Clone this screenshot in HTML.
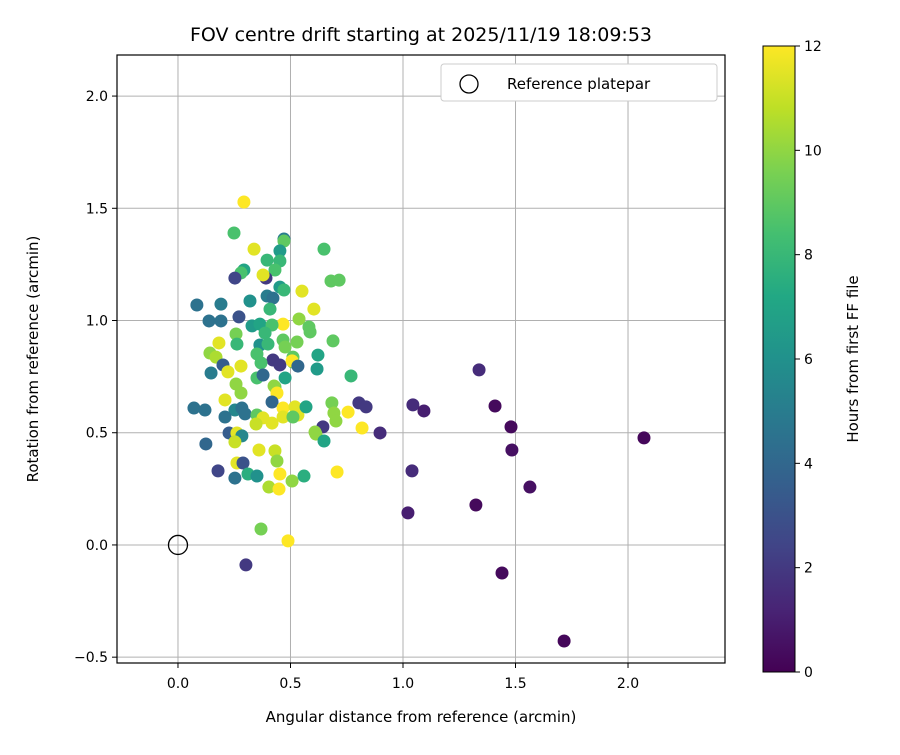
<!DOCTYPE html>
<html><head><meta charset="utf-8">
<style>
body{margin:0;background:#fff;font-family:"Liberation Sans","DejaVu Sans",sans-serif;}
svg text{font-family:"DejaVu Sans","Liberation Sans",sans-serif;fill:#000;}
</style></head>
<body>
<svg id="chart" width="900" height="750" viewBox="0 0 900 750" xmlns="http://www.w3.org/2000/svg">
<defs>
<linearGradient id="vir" x1="0" y1="1" x2="0" y2="0">
<stop offset="0" stop-color="#440154"/><stop offset="0.1" stop-color="#482475"/><stop offset="0.2" stop-color="#414487"/><stop offset="0.3" stop-color="#355f8d"/><stop offset="0.4" stop-color="#2a788e"/><stop offset="0.5" stop-color="#21918c"/><stop offset="0.6" stop-color="#22a884"/><stop offset="0.7" stop-color="#44bf70"/><stop offset="0.8" stop-color="#7ad151"/><stop offset="0.9" stop-color="#bddf26"/><stop offset="1" stop-color="#fde725"/>
</linearGradient>
<clipPath id="clip"><rect x="117" y="55" width="608" height="608"/></clipPath>
</defs>
<text x="421" y="41" font-size="19" text-anchor="middle">FOV centre drift starting at 2025/11/19 18:09:53</text>
<g id="grid"></g>
<g id="points" clip-path="url(#clip)"></g>
<rect x="117" y="55" width="608" height="608" fill="none" stroke="#000" stroke-width="1.2"/>
<g id="ticks"></g>
<text x="421" y="722" font-size="15" text-anchor="middle">Angular distance from reference (arcmin)</text>
<text transform="translate(38,359) rotate(-90)" font-size="15" text-anchor="middle">Rotation from reference (arcmin)</text>
<g>
<rect x="441" y="64" width="276" height="37" rx="3" fill="#fff" stroke="#ccc"/>
<circle cx="469" cy="84" r="9" fill="none" stroke="#000" stroke-width="1.3"/>
<text x="507" y="89" font-size="15">Reference platepar</text>
</g>
<rect x="763" y="46" width="32" height="626" fill="url(#vir)" stroke="#000" stroke-width="1"/>
<g id="cticks"></g>
<text transform="translate(858,359) rotate(-90)" font-size="15" text-anchor="middle">Hours from first FF file</text>
</svg>
<script>
const xs=[.293,.249,.471,.471,.338,.453,.649,.396,.453,.293,.280,.431,.253,.391,.378,.680,.716,.453,.471,.551,.396,.422,.320,.084,.191,.604,.409,.138,.191,.271,.329,.364,.467,.538,.582,.587,.418,.258,.387,.182,.262,.467,.529,.689,.364,.400,.142,.476,.169,.351,.422,.453,.511,.511,.507,.622,.369,.533,.618,.769,.200,.280,.147,.222,.351,.378,.476,.431,.258,.280,.427,.440,.418,.209,.071,.120,.253,.284,.298,.209,.351,.378,.347,.418,.467,.467,.520,.533,.569,.511,.644,.609,.613,.649,.684,.693,.702,.756,.804,.836,.818,.227,.262,.284,.253,.124,.360,.431,.440,.262,.289,.178,.253,.311,.351,.453,.507,.560,.404,.449,.707,.369,.489,.302,1.338,1.044,1.093,.898,1.409,1.480,1.484,1.564,2.071,1.324,1.040,1.022,1.440,1.716];
const ys=[1.528,1.390,1.363,1.354,1.318,1.310,1.318,1.269,1.265,1.225,1.212,1.225,1.189,1.189,1.203,1.176,1.180,1.149,1.136,1.131,1.109,1.100,1.087,1.069,1.073,1.051,1.051,.998,.998,1.016,.976,.984,.984,1.007,.971,.949,.980,.940,.944,.900,.895,.913,.904,.909,.891,.895,.855,.882,.837,.851,.824,.802,.837,.815,.820,.846,.811,.797,.784,.753,.802,.797,.766,.771,.744,.757,.744,.704,.717,.677,.708,.677,.637,.646,.610,.601,.601,.610,.584,.570,.579,.566,.539,.543,.610,.570,.615,.579,.615,.570,.526,.503,.494,.463,.633,.588,.552,.592,.633,.615,.521,.499,.499,.486,.459,.450,.423,.419,.374,.365,.365,.330,.298,.316,.307,.316,.285,.307,.258,.249,.325,.071,.018,-.089,.780,.624,.597,.499,.619,.526,.423,.258,.477,.178,.330,.143,-.125,-.428];
const hours=[12,8.5,5,9,11.5,6.5,8.5,8,8,7,8.5,8.5,2.5,2,11.5,9,9,6.5,8,11.5,5,4.5,6,4.5,5,11.5,8,4.5,4.5,3,6.5,7,12,10,9,9,8.5,9.5,8,11.5,8,9,9.5,9,6,8,10,9.5,10.5,8.5,2,2,9,9,12,7,8.5,4,6.5,8,3.5,11.5,5,11.5,8.5,4,7,9,10,10,10,12,4,11.5,4.5,4.5,5.5,4.5,4.5,4.5,9,11.5,11,11.5,12,11.5,11.5,11.5,7,9,2,10,10,7,9.5,10,10,12,2,2,12,3.5,11.5,5.5,11,4,11.5,11,10,11.5,3,2.5,4.5,7.5,6,12,10,7.5,10.5,12,12,9.5,12,2,1.5,1.5,1,1.5,.3,.3,.5,.5,.2,.3,1.5,1,.3,.2];
const xTicks=[0.0,0.5,1.0,1.5,2.0];
const yTicks=[-0.5,0.0,0.5,1.0,1.5,2.0];
const cTicks=[0,2,4,6,8,10,12];
const NS="http://www.w3.org/2000/svg";
const X0=117,X1=725,Y0=55,Y1=663,XMIN=-0.271,XMAX=2.431,YMIN=-0.526,YMAX=2.183;
function sx(v){return X0+(v-XMIN)/(XMAX-XMIN)*(X1-X0);}
function sy(v){return Y1-(v-YMIN)/(YMAX-YMIN)*(Y1-Y0);}
function cy(h){return 672-h/12*626;}
const vir=[[68,1,84],[72,36,117],[65,68,135],[53,95,141],[42,120,142],[33,145,140],[34,168,132],[68,191,112],[122,209,81],[189,223,38],[253,231,37]];
function col(h){let t=Math.max(0,Math.min(1,h/12))*10;let i=Math.min(9,Math.floor(t)),f=t-i;let a=vir[i],b=vir[i+1];return 'rgb('+a.map((c,k)=>Math.round(c+(b[k]-c)*f)).join(',')+')';}
function mk(tag,attrs,parent){const e=document.createElementNS(NS,tag);for(const k in attrs)e.setAttribute(k,attrs[k]);parent.appendChild(e);return e;}
const grid=document.getElementById('grid'),ticks=document.getElementById('ticks'),pts=document.getElementById('points'),ct=document.getElementById('cticks');
xTicks.forEach(v=>{const x=sx(v);
 const g=mk('line',{x1:x,x2:x,y1:Y0,y2:Y1,stroke:'#b0b0b0','stroke-width':1},grid);
 
 
 mk('line',{x1:x,x2:x,y1:Y1,y2:Y1+5,stroke:'#000'},ticks);
 const t=mk('text',{x:x,y:Y1+25,'font-size':14,'text-anchor':'middle'},ticks);t.textContent=v.toFixed(1);
 
 });
yTicks.forEach(v=>{const y=sy(v);
 const g=mk('line',{x1:X0,x2:X1,y1:y,y2:y,stroke:'#b0b0b0','stroke-width':1},grid);
 
 
 mk('line',{x1:X0-5,x2:X0,y1:y,y2:y,stroke:'#000'},ticks);
 const t=mk('text',{x:X0-9,y:y+5,'font-size':14,'text-anchor':'end'},ticks);t.textContent=(v<0?'\u2212':'')+Math.abs(v).toFixed(1);
 
 });
xs.forEach((v,i)=>{const c=mk('circle',{cx:sx(v),cy:sy(ys[i]),r:6.5,fill:col(hours[i])},pts);
 
 });
const ref=mk('circle',{cx:sx(0),cy:sy(0),r:9.5,fill:'none',stroke:'#000','stroke-width':1.3},pts);


cTicks.forEach(h=>{const y=cy(h);
 mk('line',{x1:795,x2:800,y1:y,y2:y,stroke:'#000'},ct);
 const t=mk('text',{x:804,y:y+5,'font-size':14},ct);t.textContent=h;
 
 });
</script>
</body></html>
